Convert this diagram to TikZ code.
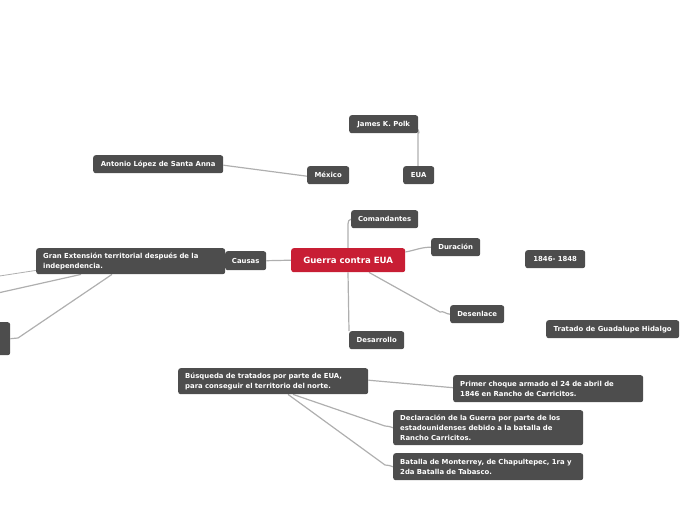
\documentclass[tikz,border=0pt]{standalone}
\usepackage{fontspec}
\setmainfont{DejaVu Sans}
\usetikzlibrary{calc}
\pgfdeclarelayer{bg}
\pgfsetlayers{bg,main}
\definecolor{boxgray}{RGB}{77,77,77}
\definecolor{mainred}{RGB}{200,30,52}
\definecolor{linegray}{RGB}{175,175,175}
\tikzset{
  box/.style={rectangle, rounded corners=2.5pt, fill=boxgray, text=white,
    font=\bfseries\fontsize{6.9}{10}\selectfont, inner sep=0pt, anchor=north west},
  mbox/.style={box, inner xsep=7pt, inner ysep=0pt, align=left},
  conn/.style={draw=linegray, line width=1.2pt},
  thin conn/.style={draw=linegray, line width=0.8pt},
}
\begin{document}
\begin{tikzpicture}[x=1pt,y=-1pt]
\useasboundingbox (0,0) rectangle (697,520);
% nodes
\node[box, fill=mainred, minimum width=114pt, minimum height=24pt, font=\bfseries\fontsize{8.6}{10}\selectfont] (guerra) at (291,248) {Guerra contra EUA};
\node[box, minimum width=41pt, minimum height=19pt] (causas) at (225,251) {Causas};
\node[mbox, text width=175pt, minimum height=26pt] (gran) at (36,248) {Gran Extensión territorial después de la\\independencia.};
\node[box, minimum width=40pt, minimum height=33pt] (leftn) at (-30,322) {};
\node[box, minimum width=67pt, minimum height=18pt] (coman) at (351,210) {Comandantes};
\node[box, minimum width=49pt, minimum height=18pt] (dura) at (431,238) {Duración};
\node[box, minimum width=54pt, minimum height=18pt] (desen) at (450,305) {Desenlace};
\node[box, minimum width=55pt, minimum height=18pt] (desar) at (349,331) {Desarrollo};
\node[box, minimum width=60pt, minimum height=18pt] (fechas) at (525,250) {1846- 1848};
\node[box, minimum width=133pt, minimum height=18pt] (tratado) at (546,320) {Tratado de Guadalupe Hidalgo};
\node[box, minimum width=69pt, minimum height=18pt] (polk) at (349,115) {James K. Polk};
\node[box, minimum width=31pt, minimum height=18pt] (eua) at (403,166) {EUA};
\node[box, minimum width=42pt, minimum height=18pt] (mexico) at (307,166) {México};
\node[box, minimum width=130pt, minimum height=18pt] (antonio) at (93,155) {Antonio López de Santa Anna};
\node[mbox, text width=176pt, minimum height=26pt] (busq) at (178,368) {Búsqueda de tratados por parte de EUA,\\para conseguir el territorio del norte.};
\node[mbox, text width=176pt, minimum height=27pt] (primer) at (453,375) {Primer choque armado el 24 de abril de\\1846 en Rancho de Carricitos.};
\node[mbox, text width=176pt, minimum height=35pt] (decl) at (393,410) {Declaración de la Guerra por parte de los\\estadounidenses debido a la batalla de\\Rancho Carricitos.};
\node[mbox, text width=176pt, minimum height=27pt] (bata) at (393,453) {Batalla de Monterrey, de Chapultepec, 1ra y\\2da Batalla de Tabasco.};
% off-canvas ends
\coordinate (off1) at (-20,279);
\coordinate (off2) at (-20,297);
% connectors
\begin{pgfonlayer}{bg}
\draw[conn] (guerra.west) -- (causas.east);
\draw[conn] ($(guerra.north west)+(57,0)$) -- (348,224) to[out=90,in=180] (coman.west);
\draw[conn] ($(guerra.north east)+(0,4)$) to[out=10,in=180] (dura.west);
\draw[conn] ($(guerra.south west)+(78,0)$) -- (440,312) to[out=20,in=180] (desen.west);
\draw[conn] ($(guerra.south west)+(57,0)$) -- (desar.north west);
\draw[conn] ($(mexico.west)+(0,1)$) -- ($(antonio.east)+(0,1)$);
\draw[conn] (eua.north -| 418,0) -- (418,130) to[out=90,in=0] (polk.south east);
\draw[conn] ($(busq.east)+(0,-1)$) -- ($(primer.west)+(0,-1)$);
\draw[conn] ($(busq.south west)+(115,0)$) -- (385,426) to[out=20,in=180] (decl.west);
\draw[conn] ($(busq.south west)+(110,0)$) -- (385,465) to[out=20,in=180] (bata.west);
\draw[thin conn] ($(gran.south west)+(0,-4)$) -- (off1);
\draw[conn] ($(gran.south west)+(45,0)$) -- (off2);
\draw[conn] ($(gran.south west)+(76,0)$) -- (18,338) -- (leftn.east);
\end{pgfonlayer}
\end{tikzpicture}
\end{document}
